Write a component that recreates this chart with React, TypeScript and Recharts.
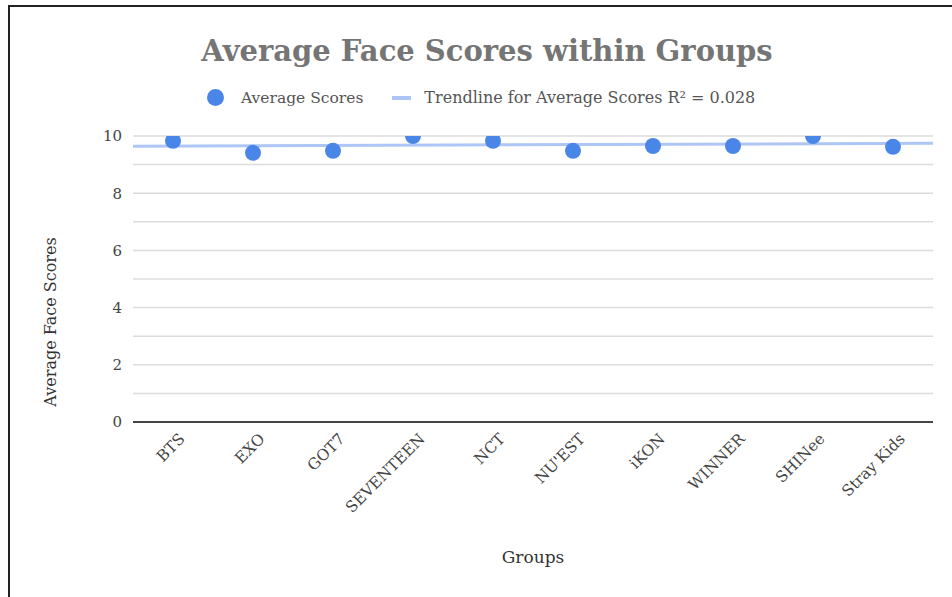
import { CartesianGrid, Scatter, ScatterChart, XAxis, YAxis } from "recharts";

const groups = ["BTS", "EXO", "GOT7", "SEVENTEEN", "NCT", "NU'EST", "iKON", "WINNER", "SHINee", "Stray Kids"];
const scores = [9.83, 9.41, 9.48, 10.0, 9.83, 9.48, 9.65, 9.65, 10.0, 9.62];
const yTicks = [0, 1, 2, 3, 4, 5, 6, 7, 8, 9, 10];
const xTicks = [0, 1, 2, 3, 4, 5, 6, 7, 8, 9];

const points = scores.map((s, i) => ({ x: i, y: s }));

// least squares trendline across the full category range
const n = scores.length;
const mx = (n - 1) / 2;
const my = scores.reduce((a, b) => a + b, 0) / n;
const slope =
  scores.reduce((acc, y, i) => acc + (i - mx) * (y - my), 0) /
  scores.reduce((acc, _y, i) => acc + (i - mx) * (i - mx), 0);
const trend = [-0.5, n - 0.5].map((x) => ({ x, y: my + slope * (x - mx) }));

const serif = "'DejaVu Serif', 'Liberation Serif', serif";
const blue = "#4a86e8";
const trendBlue = "#aec6f5";

function GroupTick({ x, y, payload }: any) {
  return (
    <g transform={`translate(${x + 9},${y + 6})`}>
      <text
        transform="rotate(-45)"
        textAnchor="end"
        dy="0.35em"
        fill="#444"
        fontSize={15.5}
        fontFamily={serif}
      >
        {groups[payload.value]}
      </text>
    </g>
  );
}

export default function App() {
  return (
    <div style={{ position: "absolute", left: 0, top: 0, width: 952, height: 597, background: "#fff" }}>
      <div style={{ position: "absolute", left: 8, top: 5, width: 944, height: 592, borderLeft: "2px solid #222", borderTop: "2px solid #222" }} />
      <div
        style={{
          position: "absolute",
          left: 0,
          width: 974,
          top: 34,
          textAlign: "center",
          fontFamily: serif,
          fontWeight: "bold",
          fontSize: 29,
          color: "#757575",
          whiteSpace: "nowrap",
        }}
      >
        Average Face Scores within Groups
      </div>
      <div
        style={{
          position: "absolute",
          left: 207,
          top: 88,
          display: "flex",
          alignItems: "center",
          fontFamily: serif,
          fontSize: 15.5,
          color: "#555",
          whiteSpace: "nowrap",
        }}
      >
        <span style={{ width: 17, height: 17, borderRadius: "50%", background: blue, display: "inline-block" }} />
        <span style={{ marginLeft: 17 }}>Average Scores</span>
        <span style={{ width: 19, height: 4, background: trendBlue, display: "inline-block", marginLeft: 29 }} />
        <span style={{ marginLeft: 13, fontSize: 16 }}>Trendline for Average Scores R² = 0.028</span>
      </div>
      <div
        style={{
          position: "absolute",
          left: 50,
          top: 322,
          transform: "translate(-50%, -50%) rotate(-90deg)",
          fontFamily: serif,
          fontSize: 16,
          color: "#333",
          whiteSpace: "nowrap",
        }}
      >
        Average Face Scores
      </div>
      <div
        style={{
          position: "absolute",
          left: 533,
          top: 557,
          transform: "translate(-50%, -50%)",
          fontFamily: serif,
          fontSize: 17,
          color: "#333",
          whiteSpace: "nowrap",
        }}
      >
        Groups
      </div>
      <div style={{ position: "absolute", left: 0, top: 0 }}>
        <ScatterChart width={952} height={597} margin={{ top: 136, right: 19, bottom: 75, left: 73 }}>
          <CartesianGrid vertical={false} stroke="#dcdcdc" strokeWidth={1.5} />
          <XAxis
            type="number"
            dataKey="x"
            domain={[-0.5, 9.5]}
            ticks={xTicks}
            interval={0}
            height={100}
            tickLine={false}
            axisLine={{ stroke: "#444", strokeWidth: 2 }}
            tick={<GroupTick />}
          />
          <YAxis
            type="number"
            dataKey="y"
            domain={[0, 10]}
            ticks={yTicks}
            interval={0}
            width={60}
            allowDataOverflow
            tickLine={false}
            axisLine={false}
            tickFormatter={(v: number) => (v % 2 === 0 ? String(v) : "")}
            tick={{ fill: "#444", fontSize: 15, fontFamily: serif }}
            tickMargin={5}
          />
          <Scatter
            data={trend}
            line={{ stroke: trendBlue, strokeWidth: 3 }}
            shape={() => <g />}
            isAnimationActive={false}
          />
          <Scatter data={points} fill={blue} shape={(p: any) => <circle cx={p.cx} cy={p.cy} r={8} fill={blue} />} isAnimationActive={false} />
        </ScatterChart>
      </div>
    </div>
  );
}
